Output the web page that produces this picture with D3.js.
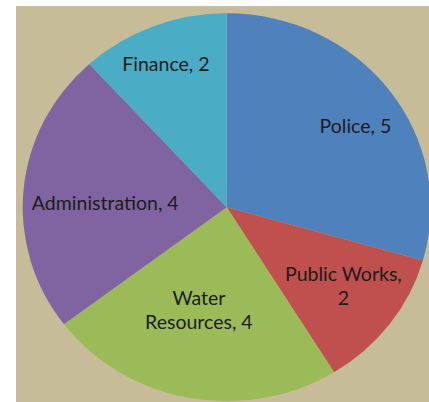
<!DOCTYPE html>
<html>
<head>
<meta charset="utf-8">
<script src="https://cdn.jsdelivr.net/npm/d3@7"></script>
<style>
  html, body { margin: 0; padding: 0; background: #ffffff; }
  svg { display: block; }
</style>
</head>
<body>
<svg id="chart" width="429" height="402"></svg>
<script>
// Department headcount shares
const departments = ["Police", "Public Works", "Water Resources", "Administration", "Finance"];
const counts = [5, 2, 4, 4, 2];
const sliceColors = ["#4f81bd", "#c0504d", "#9bbb59", "#8064a2", "#4bacc6"];

// Label lines per slice (how each data label wraps)
const labelLines = [
  ["Police, 5"],
  ["Public Works,", "2"],
  ["Water", "Resources, 4"],
  ["Administration, 4"],
  ["Finance, 2"]
];

// Layout
const W = 429, H = 402;
const cx = 226.7, cy = 207.3;
const rx = 204, ry = 194;            // plot area is slightly wider than tall
const labelRadius = 135;
// hand-placed offsets from each label's default spot
const labelNudge = [[21, 1], [9, -2], [-3, -29], [13, 9], [-12, -17]];

const svg = d3.select("#chart");

// chart area background
svg.append("rect")
  .attr("x", 16).attr("y", 6)
  .attr("width", W - 16).attr("height", H - 6)
  .attr("fill", "#c6bd98");

const data = departments.map((d, i) => ({ name: d, value: counts[i], i }));

const pie = d3.pie().sort(null).value(d => d.value);
const arcs = pie(data);

const arc = d3.arc().innerRadius(0).outerRadius(ry);

// slices drawn on a circle, then stretched horizontally
const pieG = svg.append("g")
  .attr("transform", `translate(${cx},${cy}) scale(${rx / ry},1)`);

pieG.selectAll("path")
  .data(arcs)
  .join("path")
  .attr("d", arc)
  .attr("fill", d => sliceColors[d.data.i]);

// labels: placed at mid-angle on a label circle
const labelG = svg.append("g").attr("transform", `translate(${cx},${cy})`);
const lineH = 24;

arcs.forEach(a => {
  const i = a.data.i;
  const mid = (a.startAngle + a.endAngle) / 2;
  const x = Math.sin(mid) * labelRadius + labelNudge[i][0];
  const y = -Math.cos(mid) * labelRadius + labelNudge[i][1];
  const lines = labelLines[i];
  const t = labelG.append("text")
    .attr("x", x).attr("y", y)
    .attr("text-anchor", "middle")
    .attr("font-family", "Lato, 'Open Sans', sans-serif")
    .attr("font-size", 19.5)
    .attr("fill", "#1c1c1c");
  const startDy = -((lines.length - 1) * lineH) / 2 + 6.5;
  lines.forEach((ln, k) => {
    t.append("tspan")
      .attr("x", x)
      .attr("y", y + startDy + k * lineH)
      .text(ln);
  });
});
</script>
</body>
</html>
